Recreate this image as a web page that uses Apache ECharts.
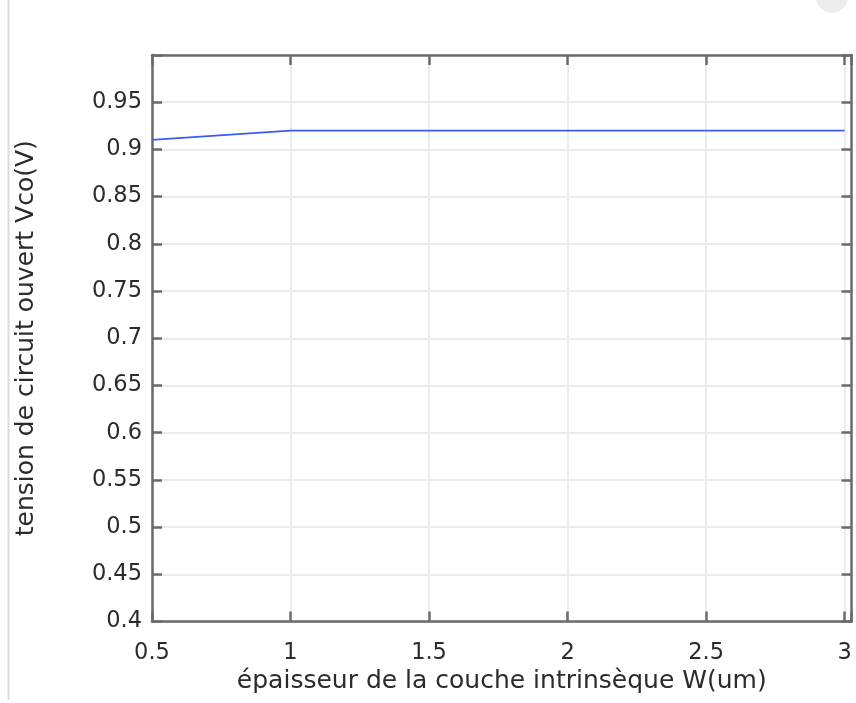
<!DOCTYPE html>
<html>
<head>
<meta charset="utf-8">
<script src="https://cdn.jsdelivr.net/npm/echarts@6/dist/echarts.min.js"></script>
<style>
html,body{margin:0;padding:0;background:#fff;}
#chart{width:856px;height:703px;}
</style>
</head>
<body>
<div id="chart"></div>
<script>
// Data
const thickness = [0.5, 1, 1.5, 2, 2.5, 3];           // W (um)
const vco = [0.91, 0.92, 0.92, 0.92, 0.92, 0.92];     // Vco (V)
const xTitle = 'épaisseur de la couche intrinsèque W(um)';
const yTitle = 'tension de circuit ouvert Vco(V)';

const FONT = 'DejaVu Sans';
const FS = 22.5;
const FT = 25;
const TXT = '#2b2b2b';
const AX = '#6b6b6b';
const GRID = '#ebebeb';

const chart = echarts.init(document.getElementById('chart'), null, {renderer: 'canvas'});

function fmt(v, step, hideAbove) {
  const k = v / step;
  if (Math.abs(k - Math.round(k)) > 1e-6) return '';
  if (hideAbove !== undefined && v > hideAbove) return '';
  return String(+v.toFixed(2));
}

const baseAxis = {
  axisLine: {show: true, onZero: false, lineStyle: {color: AX, width: 2.5}},
  axisTick: {show: true, inside: true, length: 10, lineStyle: {color: AX, width: 2.5}},
};

chart.setOption({
  animation: false,
  backgroundColor: '#ffffff',
  grid: {left: 152, right: 4.5, top: 55, bottom: 81.5, containLabel: false},
  xAxis: [
    Object.assign({}, baseAxis, {
      type: 'value', position: 'bottom', min: 0.5, max: 3.025, interval: 0.5,
      name: xTitle, nameLocation: 'middle', nameGap: 45,
      nameTextStyle: {fontFamily: FONT, fontSize: FT, color: TXT},
      axisLabel: {fontFamily: FONT, fontSize: FS, color: TXT, margin: 20,
        formatter: v => fmt(v, 0.5)},
      splitLine: {show: true, lineStyle: {color: GRID, width: 2}}
    }),
    Object.assign({}, baseAxis, {
      type: 'value', position: 'top', min: 0.5, max: 3.025, interval: 0.5,
      axisLabel: {show: false}, splitLine: {show: false}
    })
  ],
  yAxis: [
    Object.assign({}, baseAxis, {
      type: 'value', position: 'left', min: 0.4, max: 1.0, interval: 0.05,
      name: yTitle, nameLocation: 'middle', nameGap: 113, nameRotate: 90,
      nameTextStyle: {fontFamily: FONT, fontSize: FT, color: TXT},
      axisLabel: {fontFamily: FONT, fontSize: FS, color: TXT, margin: 10,
        formatter: v => fmt(v, 0.05, 0.99)},
      splitLine: {show: true, lineStyle: {color: GRID, width: 2}}
    }),
    Object.assign({}, baseAxis, {
      type: 'value', position: 'right', min: 0.4, max: 1.0, interval: 0.05,
      axisLabel: {show: false}, splitLine: {show: false}
    })
  ],
  series: [{
    type: 'line',
    data: thickness.map((x, i) => [x, vco[i]]),
    showSymbol: false,
    lineStyle: {color: '#3a5cf5', width: 1.8},
    z: 5
  }],
  graphic: [
    {type: 'line', shape: {x1: 8.5, y1: 0, x2: 8.5, y2: 700}, style: {stroke: '#dcdcdc', lineWidth: 2}},
    {type: 'circle', shape: {cx: 832, cy: -3, r: 16}, style: {fill: '#ececec'}}
  ]
});
</script>
</body>
</html>
